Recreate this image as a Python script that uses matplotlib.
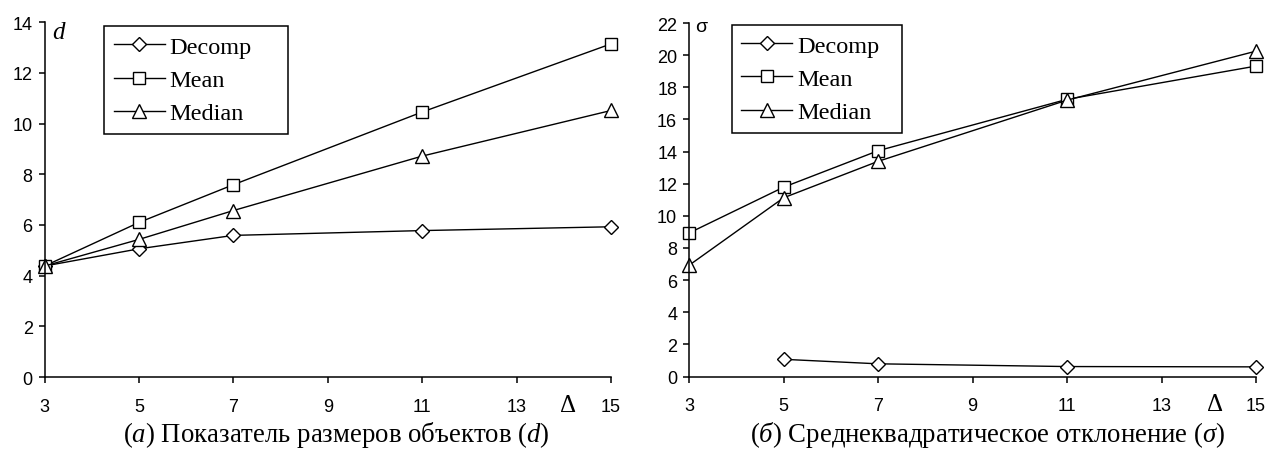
import matplotlib
matplotlib.use("Agg")
import matplotlib.pyplot as plt

plt.rcParams['mathtext.fontset'] = 'custom'
plt.rcParams['mathtext.rm'] = 'Liberation Serif'
plt.rcParams['mathtext.it'] = 'Liberation Serif:italic'

# Data
delta = [3, 5, 7, 11, 15]

d_decomp = [4.38, 5.06, 5.59, 5.78, 5.93]
d_mean = [4.38, 6.1, 7.59, 10.46, 13.15]
d_median = [4.38, 5.43, 6.57, 8.72, 10.52]

s_delta_decomp = [5, 7, 11, 15]
s_decomp = [1.07, 0.79, 0.62, 0.6]
s_mean = [8.93, 11.78, 14.05, 17.25, 19.32]
s_median = [6.92, 11.12, 13.39, 17.2, 20.25]

series_names = ['Decomp', 'Mean', 'Median']
markers = ['D', 's', '^']
msizes = [7.6, 9.0, 9.5]

captions = [r'$(a)$ Показатель размеров объектов $(d)$',
            r'$(б)$ Среднеквадратическое отклонение $(\sigma)$']

fig = plt.figure(figsize=(12.68, 4.52), dpi=100)
ax1 = fig.add_axes([0.0351, 0.1637, 0.4468, 0.7847])
ax2 = fig.add_axes([0.5434, 0.1648, 0.4472, 0.7821])


def style(ax, ymax):
    ax.set_xlim(3, 15)
    ax.set_ylim(0, ymax)
    ax.set_xticks([3, 5, 7, 9, 11, 13, 15])
    ax.set_yticks(range(0, ymax + 1, 2))
    for s in ['top', 'right']:
        ax.spines[s].set_visible(False)
    for s in ['left', 'bottom']:
        ax.spines[s].set_linewidth(1.1)
    ax.tick_params(axis='both', direction='out', length=4, width=1.1,
                   labelsize=13)
    ax.tick_params(axis='x', pad=11)
    ax.tick_params(axis='y', pad=4.5)
    for lab in ax.get_xticklabels() + ax.get_yticklabels():
        lab.set_fontfamily('Liberation Sans')


def draw(ax, xs_list, ys_list):
    for xs, ys, name, m, ms in zip(xs_list, ys_list, series_names, markers, msizes):
        ax.plot(xs, ys, color='black', lw=1.0, marker=m, ms=ms,
                mfc='white', mec='black', mew=1.0, label=name, clip_on=False)


draw(ax1, [delta, delta, delta], [d_decomp, d_mean, d_median])
draw(ax2, [s_delta_decomp, delta, delta], [s_decomp, s_mean, s_median])
style(ax1, 14)
style(ax2, 22)

for ax, bb in [(ax1, (0.105, 0.99, 0.325, 0)), (ax2, (0.0753, 0.995, 0.301, 0))]:
    leg = ax.legend(loc='upper left', bbox_to_anchor=bb, mode='expand',
                    borderaxespad=0, fancybox=False, frameon=True,
                    edgecolor='black', framealpha=1,
                    prop={'family': 'Liberation Serif', 'size': 17.5},
                    handlelength=2.1, handletextpad=0.2, labelspacing=0.47,
                    borderpad=0.4)
    leg.get_frame().set_linewidth(1.1)

ax1.text(0.024, 0.973, 'd', transform=ax1.transAxes, ha='center', va='center',
         family='Liberation Serif', style='italic', fontsize=18)
ax2.text(0.0206, 0.989, 'σ', transform=ax2.transAxes, ha='center', va='center',
         family='Liberation Sans', fontsize=14)

ax1.text(14.09, -0.079, 'Δ', transform=ax1.get_xaxis_transform(), ha='center',
         va='center', family='Liberation Serif', fontsize=18)
ax2.text(14.13, -0.078, 'Δ', transform=ax2.get_xaxis_transform(), ha='center',
         va='center', family='Liberation Serif', fontsize=18)

fig.text(0.265, 1 - 441.7 / 452, captions[0], ha='center', va='baseline',
         family='Liberation Serif', fontsize=19.3)
fig.text(0.779, 1 - 441.7 / 452, captions[1], ha='center', va='baseline',
         family='Liberation Serif', fontsize=19.3)

fig.savefig('out.png', dpi=100)
